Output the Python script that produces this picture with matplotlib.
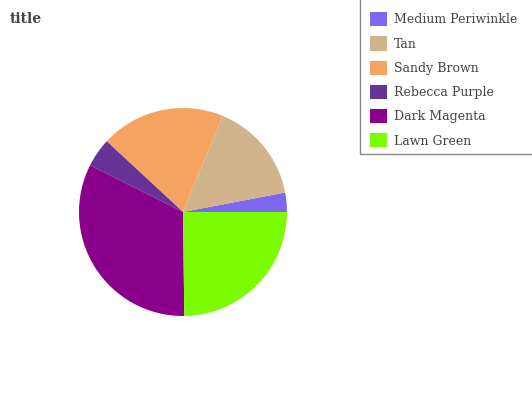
import matplotlib
matplotlib.use("Agg")
import matplotlib.pyplot as plt
from matplotlib.patches import Rectangle

labels = ["Medium Periwinkle", "Tan", "Sandy Brown", "Rebecca Purple", "Dark Magenta", "Lawn Green"]
values = [3.0, 15.8, 19.3, 4.5, 32.6, 24.8]
colors = ["#7b68ee", "#d2b48c", "#f4a460", "#663399", "#8b008b", "#7cfc00"]

plt.rcParams["font.family"] = ["DejaVu Serif"]

W, H = 532, 400
fig = plt.figure(figsize=(W / 100, H / 100), dpi=100)

# pie centre (183, 212), radius ~104 px
cx, cy, r = 183, 212, 104
ax = fig.add_axes([(cx - r) / W, 1 - (cy + r) / H, 2 * r / W, 2 * r / H])
wedges, _ = ax.pie(values, colors=colors, startangle=0, counterclock=True,
                   radius=1.0, wedgeprops=dict(linewidth=0))
ax.set_xlim(-1, 1)
ax.set_ylim(-1, 1)
ax.set_aspect("auto")
ax.axis("off")

fig.text(10 / W, 1 - 23 / H, "title", fontsize=10, fontweight="bold",
         color="#444444", ha="left", va="baseline")

leg = fig.legend(wedges, labels, loc="upper left",
                 bbox_to_anchor=(359 / W, 1 - 1 / H),
                 frameon=False, fontsize=9,
                 handlelength=1.36, handleheight=1.36, handletextpad=0.56,
                 labelspacing=0.8, borderpad=0.9, borderaxespad=0)
for t in leg.get_texts():
    t.set_color("#444444")

# legend box runs off the right edge in the reference
fig.patches.append(Rectangle((359.5 / W, 1 - 154 / H), 200 / W, 160 / H,
                             transform=fig.transFigure, fill=False,
                             edgecolor="#888888", linewidth=1.0))

fig.savefig("out.png", dpi=100)
